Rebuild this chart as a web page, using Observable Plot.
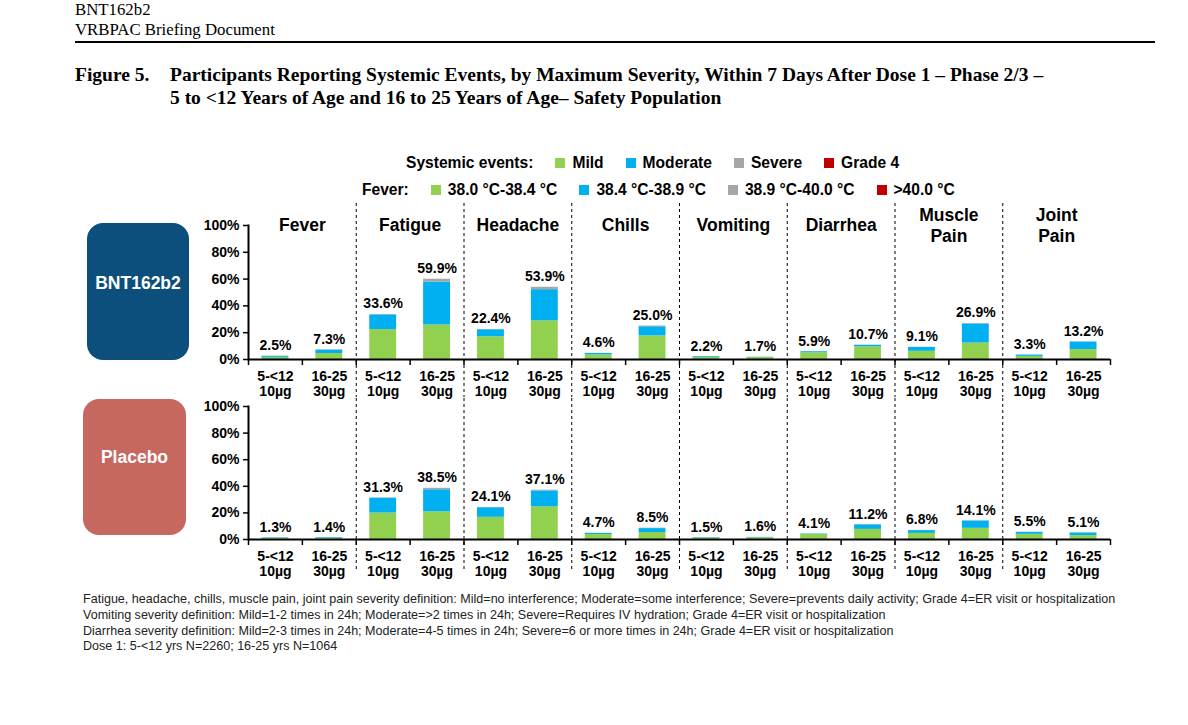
<!DOCTYPE html>
<html><head><meta charset="utf-8">
<script src="https://cdn.jsdelivr.net/npm/d3@7"></script>
<script src="https://cdn.jsdelivr.net/npm/@observablehq/plot@0.6"></script>
<style>
body{margin:0;background:#fff;width:1188px;height:725px;position:relative;overflow:hidden;font-family:"Liberation Sans",Arial,sans-serif;color:#000;}
.abs{position:absolute;white-space:nowrap;}
.serif{font-family:"Liberation Serif","Times New Roman",serif;}
.hdr{font-size:16.8px;line-height:20px;}
.ttl{font-size:19.5px;line-height:23px;font-weight:bold;}
.leg{display:flex;align-items:center;font-weight:bold;font-size:15.6px;line-height:20px;}
.leg .sw{width:10px;height:10px;margin-right:7px;}
.leg .it{display:flex;align-items:center;margin-left:22px;}
.box{border-radius:16px;}
.boxtxt{color:#fff;font-weight:bold;font-size:17.5px;line-height:20px;text-align:center;}
.foot{font-size:12.55px;line-height:15.8px;color:#222;}
svg{overflow:visible;}
</style></head><body>
<div class="abs serif hdr" style="left:75px;top:0px">BNT162b2</div>
<div class="abs serif hdr" style="left:75px;top:20px">VRBPAC Briefing Document</div>
<div class="abs" style="left:75px;top:41px;width:1080px;height:2px;background:#000"></div>
<div class="abs serif ttl" style="left:75px;top:63px">Figure 5.</div>
<div class="abs serif ttl" style="left:170px;top:63px">Participants Reporting Systemic Events, by Maximum Severity, Within 7 Days After Dose 1 – Phase 2/3 –</div>
<div class="abs serif ttl" style="left:170px;top:86px">5 to &lt;12 Years of Age and 16 to 25 Years of Age– Safety Population</div>

<div id="leg1" class="abs leg" style="left:406px;top:153px"></div>
<div id="leg2" class="abs leg" style="left:362px;top:180px"></div>

<div class="abs box" style="left:87px;top:223px;width:102px;height:137px;background:#0c4f7c"></div>
<div class="abs boxtxt" style="left:87px;top:273px;width:102px">BNT162b2</div>
<div class="abs box" style="left:83px;top:399px;width:103px;height:136px;background:#c6685f"></div>
<div class="abs boxtxt" style="left:83px;top:447px;width:103px">Placebo</div>

<div id="p1" class="abs" style="left:0;top:200px"></div>
<div id="p2" class="abs" style="left:0;top:398px"></div>

<div id="foot" class="abs foot" style="left:83px;top:592px"></div>

<script>
const symptoms = ["Fever","Fatigue","Headache","Chills","Vomiting","Diarrhea","Muscle\nPain","Joint\nPain"];
const ageGroups = ["5-<12\n10µg","16-25\n30µg"];
const severities = ["Mild","Moderate","Severe","Grade 4"];
const feverLevels = ["38.0 °C-38.4 °C","38.4 °C-38.9 °C","38.9 °C-40.0 °C",">40.0 °C"];
const colors = ["#92d050","#00b0f0","#a6a6a6","#c00000"];

// order: Fever 5-<12, Fever 16-25, Fatigue 5-<12, ...
const bntTotal    = [2.5,7.3,33.6,59.9,22.4,53.9,4.6,25.0,2.2,1.7,5.9,10.7,9.1,26.9,3.3,13.2];
const bntMild     = [1.6,4.4,22.3,25.8,17.0,28.9,3.4,17.6,1.5,1.5,5.0,9.4,6.1,12.3,2.3,7.4];
const bntModerate = [0.8,2.6,11.0,32.0,5.2,23.2,1.1,6.8,0.6,0.2,0.8,1.2,2.9,14.2,1.0,5.6];
const bntSevere   = [0.1,0.3,0.3,2.1,0.2,1.8,0.1,0.6,0.1,0.0,0.1,0.1,0.1,0.4,0.0,0.2];
const bntGrade4   = [0,0,0,0,0,0,0,0,0,0,0,0,0,0,0,0];

const plaTotal    = [1.3,1.4,31.3,38.5,24.1,37.1,4.7,8.5,1.5,1.6,4.1,11.2,6.8,14.1,5.5,5.1];
const plaMild     = [0.8,0.6,19.9,20.8,16.7,24.6,3.7,5.2,1.2,1.3,3.7,7.6,4.6,8.4,3.9,2.9];
const plaModerate = [0.4,0.7,11.1,16.6,7.2,11.9,0.9,3.0,0.3,0.3,0.4,3.4,2.1,5.5,1.5,2.0];
const plaSevere   = [0.1,0.1,0.3,1.1,0.2,0.6,0.1,0.3,0.0,0.0,0.0,0.2,0.1,0.2,0.1,0.2];
const plaGrade4   = [0,0,0,0,0,0,0,0,0,0,0,0,0,0,0,0];

const yTicks = [0,20,40,60,80,100];

const footnotes = [
  "Fatigue, headache, chills, muscle pain, joint pain severity definition: Mild=no interference; Moderate=some interference; Severe=prevents daily activity; Grade 4=ER visit or hospitalization",
  "Vomiting severity definition: Mild=1-2 times in 24h; Moderate=>2 times in 24h; Severe=Requires IV hydration; Grade 4=ER visit or hospitalization",
  "Diarrhea severity definition: Mild=2-3 times in 24h; Moderate=4-5 times in 24h; Severe=6 or more times in 24h; Grade 4=ER visit or hospitalization",
  "Dose 1: 5-<12 yrs N=2260; 16-25 yrs N=1064"
];

function legendRow(el, title, labels) {
  const t = document.createElement("span"); t.textContent = title; el.appendChild(t);
  labels.forEach((l, k) => {
    const it = document.createElement("span"); it.className = "it";
    const sw = document.createElement("span"); sw.className = "sw"; sw.style.background = colors[k];
    const tx = document.createElement("span"); tx.textContent = l;
    it.appendChild(sw); it.appendChild(tx); el.appendChild(it);
  });
}
legendRow(document.getElementById("leg1"), "Systemic events:", severities);
legendRow(document.getElementById("leg2"), "Fever:", feverLevels);

document.getElementById("foot").innerHTML = footnotes.map(f => "<div>" + f.replace(/&/g,"&amp;").replace(/</g,"&lt;").replace(/>/g,"&gt;") + "</div>").join("");

function panel(total, comps, o) {
  const rows = [];
  total.forEach((t, i) => {
    let c = 0;
    comps.forEach((arr, s) => {
      const v = arr[i];
      if (v > 0) rows.push({i, sev: severities[s], y1: c, y2: c + v});
      c += v;
    });
  });
  const labels = total.map((t, i) => ({i, t}));
  const cats = total.map((t, i) => ({i, label: ageGroups[i % 2]}));
  const groups = symptoms.map((s, k) => ({k, s}));
  const marks = [
    Plot.ruleX(d3.range(2, symptoms.length * 2, 2), {stroke: "#000", strokeWidth: 1, strokeDasharray: "3,3", insetTop: -o.extTop, insetBottom: -o.extBottom}),
    Plot.rect(rows, {x1: d => d.i, x2: d => d.i + 1, y1: "y1", y2: "y2", fill: "sev", insetLeft: 13.5, insetRight: 13.5}),
    Plot.axisY({ticks: yTicks, tickFormat: d => d + "%", tickSize: 5, tickPadding: 4, strokeWidth: 1.5}),
    Plot.axisX({ticks: d3.range(total.length + 1), tickSize: 6, tickFormat: () => "", strokeWidth: 1.5}),
    Plot.frame({anchor: "left", strokeWidth: 2}),
    Plot.ruleY([0], {strokeWidth: 2}),
    Plot.text(labels, {x: d => d.i + 0.5, y: "t", text: d => d.t.toFixed(1) + "%", dy: -6, lineAnchor: "bottom"}),
    Plot.text(cats, {x: d => d.i + 0.5, y: 0, text: "label", dy: 11, lineAnchor: "top", lineHeight: 1.05})
  ];
  if (o.titles) marks.push(Plot.text(groups, {x: d => 2 * d.k + 1, y: 100, text: "s", fontSize: 17.5, lineAnchor: "middle", lineHeight: 1.2, dy: -1}));
  return Plot.plot({
    width: 1188, height: o.height,
    marginLeft: 248, marginRight: 78, marginTop: o.mt, marginBottom: o.mb,
    x: {domain: [0, total.length]},
    y: {domain: [0, 100]},
    color: {domain: severities, range: colors},
    style: {fontFamily: "Liberation Sans, Arial, sans-serif", fontSize: "14px", fontWeight: "bold", color: "#000", background: "transparent", overflow: "visible"},
    marks
  });
}

document.getElementById("p1").appendChild(panel(bntTotal, [bntMild, bntModerate, bntSevere, bntGrade4], {height: 200, mt: 25, mb: 41, extTop: 22, extBottom: 38, titles: true}));
document.getElementById("p2").appendChild(panel(plaTotal, [plaMild, plaModerate, plaSevere, plaGrade4], {height: 180, mt: 8, mb: 39, extTop: 8, extBottom: 32, titles: false}));
</script>
</body></html>
